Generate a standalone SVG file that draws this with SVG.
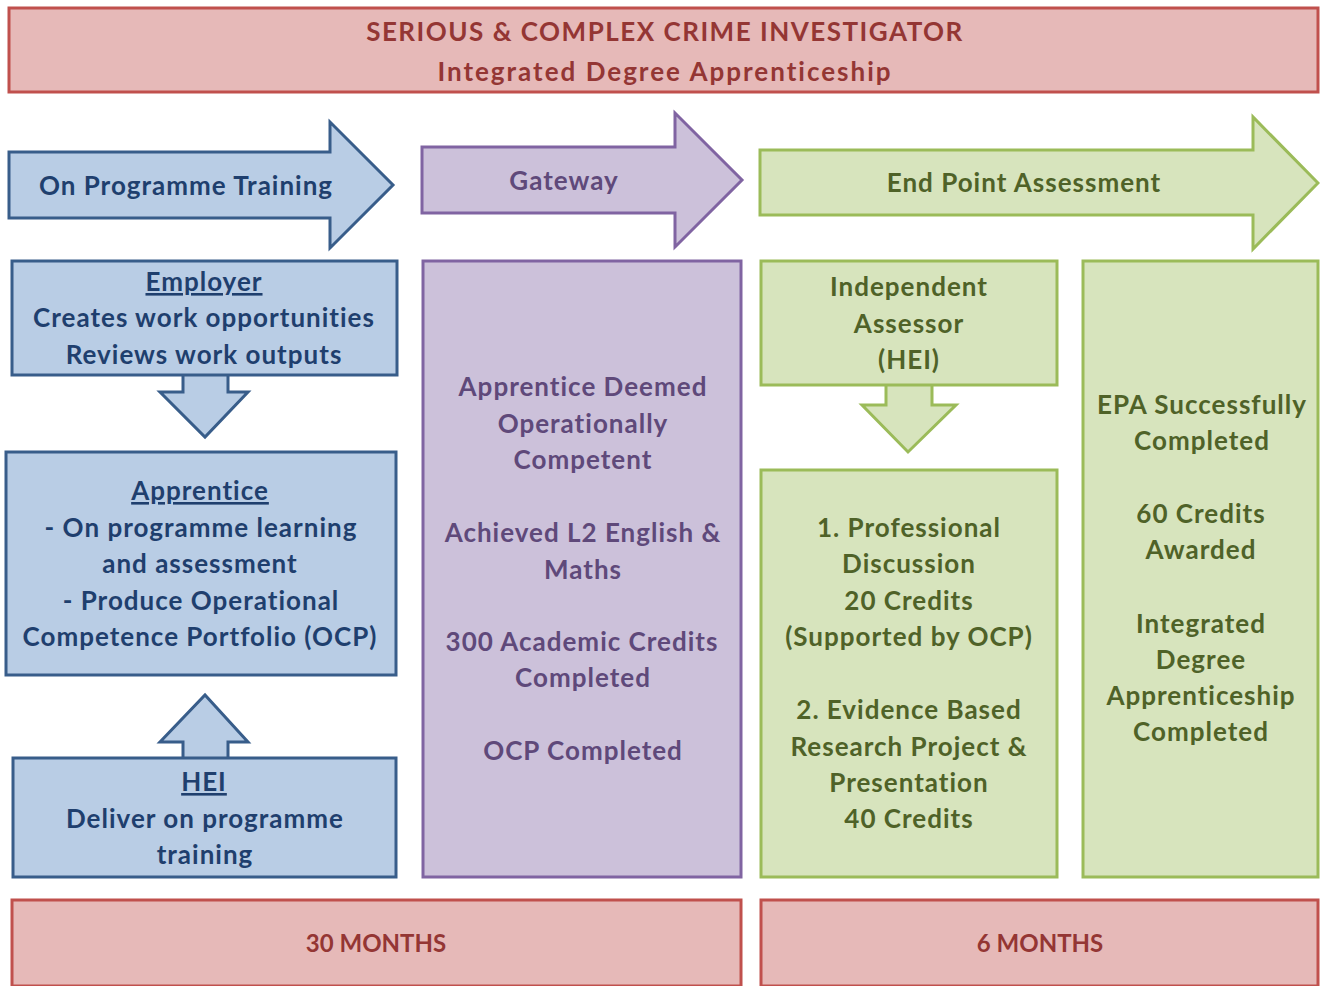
<svg xmlns="http://www.w3.org/2000/svg" width="1320" height="986" viewBox="0 0 1320 986">
<style>
text{font-family:Lato,"Open Sans","Liberation Sans",sans-serif;font-weight:bold;text-anchor:middle;font-size:26px;letter-spacing:1px}
.red{fill:#e6b9b8;stroke:#c0504d;stroke-width:3}
.blue{fill:#b9cde5;stroke:#385d8a;stroke-width:3}
.purple{fill:#ccc1da;stroke:#8064a2;stroke-width:3}
.green{fill:#d7e4bd;stroke:#9bbb59;stroke-width:3}
.tr{fill:#943634}
.tb{fill:#1f3f6e}
.tp{fill:#5f497a}
.tg{fill:#4f6228}
.u{text-decoration:underline}
.dur{font-size:24px;letter-spacing:0}
</style>
<rect width="1320" height="986" fill="#ffffff"/>
<g id="title">
<rect class="red" x="9" y="8" width="1309" height="84"/>
<text class="tr" x="665" y="41" font-size="30" style="letter-spacing:1.5px">SERIOUS &amp; COMPLEX CRIME INVESTIGATOR</text>
<text class="tr" x="665" y="81" font-size="30" style="letter-spacing:2px">Integrated Degree Apprenticeship</text>
</g>
<g id="phase-training">
<path class="blue" d="M9,152 H330 V122 L393,185 L330,248 V218 H9 Z"/>
<text class="tb" x="186" y="195">On Programme Training</text>
</g>
<g id="phase-gateway">
<path class="purple" d="M422,147 H675 V113 L742,180 L675,247 V213 H422 Z"/>
<text class="tp" x="564" y="190">Gateway</text>
</g>
<g id="phase-epa">
<path class="green" d="M760,150 H1253 V117 L1318,183 L1253,249 V215 H760 Z"/>
<text class="tg" x="1024" y="192">End Point Assessment</text>
</g>
<g id="connectors">
<path class="blue" d="M183,375 V392 H160 L205,437 L248,392 H228 V375"/>
<path class="blue" d="M183,758 V742 H160 L205,695 L248,742 H228 V758"/>
<path class="green" d="M886,385 V405 H862 L908,452 L956,405 H932 V385"/>
</g>
<g id="employer">
<rect class="blue" x="12" y="261" width="385" height="114"/>
<text class="tb u" x="204" y="291">Employer</text>
<text class="tb" x="204" y="327">Creates work opportunities</text>
<text class="tb" x="204" y="364">Reviews work outputs</text>
</g>
<g id="apprentice">
<rect class="blue" x="6" y="452" width="390" height="223"/>
<text class="tb u" x="200" y="500">Apprentice</text>
<text class="tb" x="201" y="537">- On programme learning</text>
<text class="tb" x="200" y="573">and assessment</text>
<text class="tb" x="201" y="610">- Produce Operational</text>
<text class="tb" x="200" y="646">Competence Portfolio (OCP)</text>
</g>
<g id="hei">
<rect class="blue" x="13" y="758" width="383" height="119"/>
<text class="tb u" x="204" y="791">HEI</text>
<text class="tb" x="205" y="828">Deliver on programme</text>
<text class="tb" x="205" y="864">training</text>
</g>
<g id="gateway-box">
<rect class="purple" x="423" y="261" width="318" height="616"/>
<text class="tp" x="583" y="396">Apprentice Deemed</text>
<text class="tp" x="583" y="433">Operationally</text>
<text class="tp" x="583" y="469">Competent</text>
<text class="tp" x="583" y="542">Achieved L2 English &amp;</text>
<text class="tp" x="583" y="579">Maths</text>
<text class="tp" x="582" y="651">300 Academic Credits</text>
<text class="tp" x="583" y="687">Completed</text>
<text class="tp" x="583" y="760">OCP Completed</text>
</g>
<g id="assessor">
<rect class="green" x="761" y="261" width="296" height="124"/>
<text class="tg" x="909" y="296">Independent</text>
<text class="tg" x="909" y="333">Assessor</text>
<text class="tg" x="909" y="369">(HEI)</text>
</g>
<g id="epa-components">
<rect class="green" x="761" y="470" width="296" height="407"/>
<text class="tg" x="909" y="537">1. Professional</text>
<text class="tg" x="909" y="573">Discussion</text>
<text class="tg" x="909" y="610">20 Credits</text>
<text class="tg" x="909" y="646">(Supported by OCP)</text>
<text class="tg" x="909" y="719">2. Evidence Based</text>
<text class="tg" x="909" y="756">Research Project &amp;</text>
<text class="tg" x="909" y="792">Presentation</text>
<text class="tg" x="909" y="828">40 Credits</text>
</g>
<g id="outcome">
<rect class="green" x="1083" y="261" width="235" height="616"/>
<text class="tg" x="1202" y="414">EPA Successfully</text>
<text class="tg" x="1202" y="450">Completed</text>
<text class="tg" x="1201" y="523">60 Credits</text>
<text class="tg" x="1201" y="559">Awarded</text>
<text class="tg" x="1201" y="633">Integrated</text>
<text class="tg" x="1201" y="669">Degree</text>
<text class="tg" x="1201" y="705">Apprenticeship</text>
<text class="tg" x="1201" y="741">Completed</text>
</g>
<g id="duration-30">
<rect class="red" x="12" y="900" width="729" height="86"/>
<text class="tr dur" x="376" y="952">30 MONTHS</text>
</g>
<g id="duration-6">
<rect class="red" x="761" y="900" width="557" height="86"/>
<text class="tr dur" x="1040" y="952">6 MONTHS</text>
</g>
</svg>
